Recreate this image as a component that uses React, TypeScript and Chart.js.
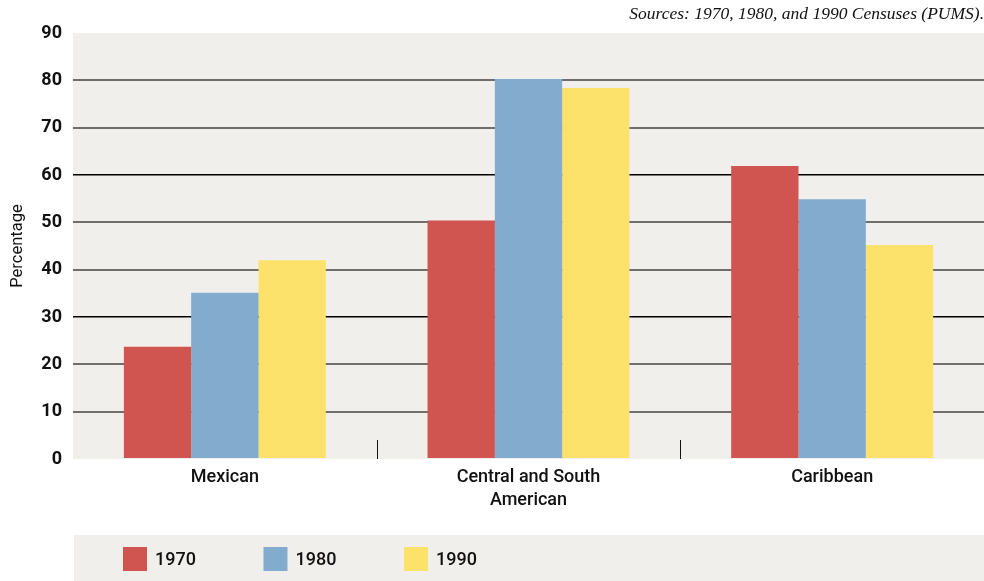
import React, { useEffect, useRef } from "react";
import { Chart, registerables } from "chart.js";

Chart.register(...registerables);

const categories: (string | string[])[] = ["Mexican", ["Central and South", "American"], "Caribbean"];
const seriesLabels = ["1970", "1980", "1990"];
const values1970 = [23.7, 50.4, 61.9];
const values1980 = [35.1, 80.3, 54.9];
const values1990 = [42.0, 78.4, 45.2];
const seriesColors = ["#D05450", "#82ABCD", "#FCE26A"];
const yTicks = [0, 10, 20, 30, 40, 50, 60, 70, 80, 90];
const sourceText = "Sources: 1970, 1980, and 1990 Censuses (PUMS).";

const BG = "#F0EFEB";
const SANS = "Roboto";

const decorPlugin = {
  id: "decor",
  beforeDraw(chart: any) {
    const { ctx, chartArea } = chart;
    ctx.save();
    ctx.fillStyle = BG;
    ctx.fillRect(chartArea.left, chartArea.top, chartArea.right - chartArea.left, chartArea.bottom - chartArea.top);
    // legend box
    ctx.fillRect(74, 535, chart.width - 74, chart.height - 535);
    ctx.restore();
  },
  beforeDatasetsDraw(chart: any) {
    const { ctx, chartArea } = chart;
    const xs = chart.scales.x;
    ctx.save();
    ctx.strokeStyle = "#111";
    ctx.lineWidth = 1;
    for (let i = 1; i < categories.length; i++) {
      const x = Math.round((xs.getPixelForValue(i - 1) + xs.getPixelForValue(i)) / 2) + 0.5;
      ctx.beginPath();
      ctx.moveTo(x, chartArea.bottom - 19);
      ctx.lineTo(x, chartArea.bottom);
      ctx.stroke();
    }
    ctx.restore();
  },
  afterDraw(chart: any) {
    const { ctx } = chart;
    ctx.save();
    ctx.font = `500 18px ${SANS}`;
    ctx.textBaseline = "middle";
    ctx.textAlign = "left";
    chart.data.datasets.forEach((ds: any, i: number) => {
      const x0 = 123 + i * 140.5;
      ctx.fillStyle = ds.backgroundColor;
      ctx.fillRect(x0, 547, 24, 24);
      ctx.fillStyle = "#111";
      ctx.fillText(ds.label, x0 + 32, 560);
    });
    ctx.restore();
  },
};

export default function App() {
  const ref = useRef<HTMLCanvasElement>(null);
  useEffect(() => {
    const chart = new Chart(ref.current!, {
      type: "bar",
      data: {
        labels: categories as any,
        datasets: [
          { label: seriesLabels[0], data: values1970, backgroundColor: seriesColors[0] },
          { label: seriesLabels[1], data: values1980, backgroundColor: seriesColors[1] },
          { label: seriesLabels[2], data: values1990, backgroundColor: seriesColors[2] },
        ],
      },
      options: {
        animation: false,
        responsive: false,
        maintainAspectRatio: false,
        layout: { padding: { left: 0, right: 0, top: 0, bottom: 0 } },
        datasets: { bar: { categoryPercentage: 0.665, barPercentage: 1.0, borderWidth: 0 } } as any,
        plugins: {
          legend: { display: false },
          tooltip: { enabled: false },
          title: {
            display: true,
            text: sourceText,
            align: "end",
            color: "#111",
            font: { family: "Liberation Serif", style: "italic", size: 17.5, weight: "normal", lineHeight: 1.2 },
            padding: { top: 4, bottom: 8 },
          },
        },
        scales: {
          x: {
            grid: { display: false },
            border: { display: false },
            ticks: {
              color: "#111",
              font: { family: SANS, size: 18, weight: "500", lineHeight: 1.27 },
              padding: -1,
              maxRotation: 0,
              autoSkip: false,
            },
            afterFit(scale: any) {
              scale.height = 122;
            },
          },
          y: {
            min: 0,
            max: 90,
            afterBuildTicks(scale: any) {
              scale.ticks = yTicks.map((v) => ({ value: v }));
            },
            grid: {
              drawTicks: false,
              color: (c: any) => {
                const v = c.tick?.value;
                if (v === 0 || v === 90) return "rgba(0,0,0,0)";
                if (v === 60 || v === 30) return "#000";
                return "#6E6E6E";
              },
              lineWidth: (c: any) => {
                const v = c.tick?.value;
                if (v === 60 || v === 30) return 1.5;
                return 2;
              },
            },
            border: { display: false },
            ticks: {
              color: "#111",
              font: { family: SANS, size: 18, weight: "bold" },
              padding: 11,
            },
            title: {
              display: true,
              text: "Percentage",
              color: "#111",
              font: { family: SANS, size: 16.5, weight: "normal", lineHeight: 1.2 },
              padding: { top: 8, bottom: 0 },
            },
            afterFit(scale: any) {
              scale.width = 73;
            },
          },
        },
      },
      plugins: [decorPlugin],
    });
    return () => chart.destroy();
  }, []);
  return (
    <div style={{ position: "fixed", left: 0, top: 0, width: 984, height: 581, background: "#fff" }}>
      <canvas ref={ref} width={984} height={581} style={{ width: 984, height: 581, display: "block" }} />
    </div>
  );
}
